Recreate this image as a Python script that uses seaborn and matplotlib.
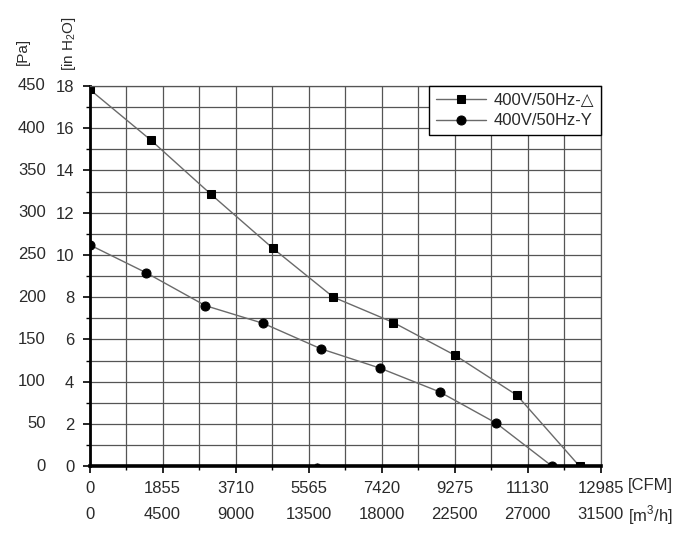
import numpy as np
import pandas as pd
import matplotlib
matplotlib.use('Agg')
import matplotlib.pyplot as plt
from matplotlib.ticker import MultipleLocator
import seaborn as sns

# Fan curve data: airflow in m3/h, static pressure in Pa
delta_flow = [0, 3770, 7470, 11290, 15030, 18730, 22550, 26340, 30200]
delta_pa = [446, 386, 322, 258, 200, 170, 131, 84, 0]
star_flow = [0, 3480, 7140, 10710, 14250, 17910, 21570, 25060, 28510]
star_pa = [262, 229, 190, 169, 139, 116, 88, 51, 0]
stray_flow = [14000]
stray_pa = [0]

flow_ticks = [0, 4500, 9000, 13500, 18000, 22500, 27000, 31500]
cfm_labels = ['0', '1855', '3710', '5565', '7420', '9275', '11130', '12985']
pa_ticks = [0, 50, 100, 150, 200, 250, 300, 350, 400, 450]
inh2o_labels = ['0', '2', '4', '6', '8', '10', '12', '14', '16', '18']

sns.set_style('white')
plt.rcParams['font.family'] = ['Liberation Sans', 'DejaVu Sans']
plt.rcParams['mathtext.fontset'] = 'custom'
plt.rcParams['mathtext.rm'] = 'Liberation Sans'

txt_color = '#2a2a2a'
fs = 12

fig = plt.figure(figsize=(7, 5.34), dpi=100)
ax = fig.add_axes([0.128, 0.127, 0.730, 0.712])

line_kw = dict(color='#6a6a6a', linewidth=1.0, markerfacecolor='black',
               markeredgecolor='black', zorder=4)
df_d = pd.DataFrame({'flow': delta_flow, 'pa': delta_pa})
df_y = pd.DataFrame({'flow': star_flow, 'pa': star_pa})
sns.lineplot(data=df_d, x='flow', y='pa', marker='s', markersize=6,
             label='400V/50Hz-\u25b3', ax=ax, **line_kw)
sns.lineplot(data=df_y, x='flow', y='pa', marker='o', markersize=6.5,
             label='400V/50Hz-Y', ax=ax, **line_kw)
sns.scatterplot(x=stray_flow, y=stray_pa, color='black', s=25, ax=ax,
                zorder=3, legend=False)

ax.set_xlim(0, 31500)
ax.set_ylim(0, 450)
ax.set_xlabel('')
ax.set_ylabel('')

# ticks and grid
ax.set_xticks(flow_ticks)
ax.set_xticklabels(cfm_labels, fontsize=fs, color=txt_color)
ax.xaxis.set_minor_locator(MultipleLocator(2250))
ax.set_yticks(pa_ticks)
ax.set_yticklabels(inh2o_labels, fontsize=fs, color=txt_color)
ax.yaxis.set_minor_locator(MultipleLocator(25))
ax.tick_params(axis='both', which='major', direction='out', length=5,
               width=1.2, color='black', left=True, bottom=True)
ax.tick_params(axis='both', which='minor', direction='out', length=3,
               width=1.0, color='black', left=True, bottom=True)
ax.tick_params(axis='y', which='major', pad=6)
ax.tick_params(axis='x', which='major', pad=6)
ax.grid(True, which='both', color='#555555', linewidth=0.9)
ax.set_axisbelow(True)

for side in ['top', 'right']:
    ax.spines[side].set_color('#555555')
    ax.spines[side].set_linewidth(0.9)
ax.spines['left'].set_color('black')
ax.spines['left'].set_linewidth(2.0)
ax.spines['bottom'].set_color('black')
ax.spines['bottom'].set_linewidth(2.6)
for sp in ax.spines.values():
    sp.set_zorder(5)

# Pa labels (outer y scale)
ytr = ax.get_yaxis_transform()
for p in pa_ticks:
    ax.text(-0.086, p, str(p), transform=ytr, ha='right', va='center',
            fontsize=fs, color=txt_color)

# m3/h labels (second x row)
xtr = ax.get_xaxis_transform()
for f in flow_ticks:
    ax.text(f, -0.128, str(f), transform=xtr, ha='center', va='center',
            fontsize=fs, color=txt_color)

ax.text(1.053, -0.052, '[CFM]', transform=ax.transAxes, ha='left',
        va='center', fontsize=fs, color=txt_color)
ax.text(1.053, -0.128, '[m$^3$/h]', transform=ax.transAxes, ha='left',
        va='center', fontsize=fs, color=txt_color)
fig.text(0.032, 0.903, '[Pa]', rotation=90, ha='center', va='center',
         fontsize=11, color=txt_color)
fig.text(0.099, 0.918, '[in H$_2$O]', rotation=90, ha='center', va='center',
         fontsize=11, color=txt_color)

leg = ax.legend(loc='upper right', borderaxespad=0, fancybox=False,
                framealpha=1, edgecolor='black', fontsize=fs,
                handlelength=3.0, handletextpad=0.45, labelspacing=0.35,
                borderpad=0.4)
leg.get_frame().set_linewidth(1.0)
leg.set_zorder(6)
for t in leg.get_texts():
    t.set_color(txt_color)

fig.savefig('out.png', dpi=100, facecolor='white')
